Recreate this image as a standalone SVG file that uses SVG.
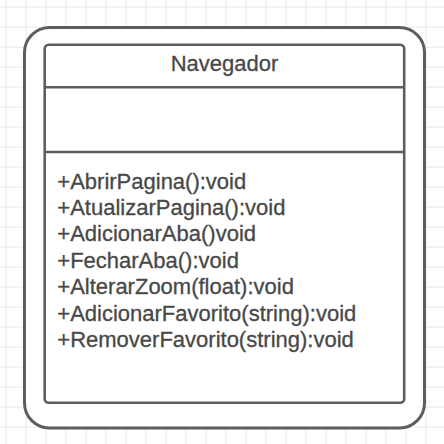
<svg xmlns="http://www.w3.org/2000/svg" width="444" height="444" viewBox="0 0 444 444">
<style>
.box{fill:#ffffff;stroke:#5e5e5e;}
.sep{stroke:#5e5e5e;stroke-width:2.6;fill:none;}
.t{font-family:"Liberation Sans",Arial,sans-serif;font-size:22px;fill:#484848;stroke:#484848;stroke-width:0.3;}
</style>
<defs>
<pattern id="grid" x="5.5" y="6.7" width="20" height="20" patternUnits="userSpaceOnUse">
<path d="M0 0.5H20M0.5 0V20" stroke="#e8e8e8" stroke-width="1" fill="none"/>
</pattern>
</defs>
<rect width="444" height="444" fill="#ffffff"/>
<rect width="444" height="444" fill="url(#grid)"/>
<g id="frame">
<rect class="box" x="24.5" y="27.5" width="400" height="400.5" rx="25" ry="25" stroke-width="3"/>
</g>
<g id="navegador">
<rect class="box" x="44.7" y="44.7" width="359.5" height="358" rx="4" ry="4" stroke-width="2.6"/>
<line class="sep" x1="44.7" y1="87.3" x2="404.2" y2="87.3"/>
<line class="sep" x1="44.7" y1="152" x2="404.2" y2="152"/>
<text class="t" x="224.5" y="71" text-anchor="middle">Navegador</text>
<text class="t" x="57.3" y="188.5">+AbrirPagina():void</text>
<text class="t" x="57.3" y="214.9">+AtualizarPagina():void</text>
<text class="t" x="57.3" y="241.3">+AdicionarAba()void</text>
<text class="t" x="57.3" y="267.7">+FecharAba():void</text>
<text class="t" x="57.3" y="294.1">+AlterarZoom(float):void</text>
<text class="t" x="57.3" y="320.5">+AdicionarFavorito(string):void</text>
<text class="t" x="57.3" y="346.9">+RemoverFavorito(string):void</text>
</g>
<g id="connectors"></g>
</svg>
